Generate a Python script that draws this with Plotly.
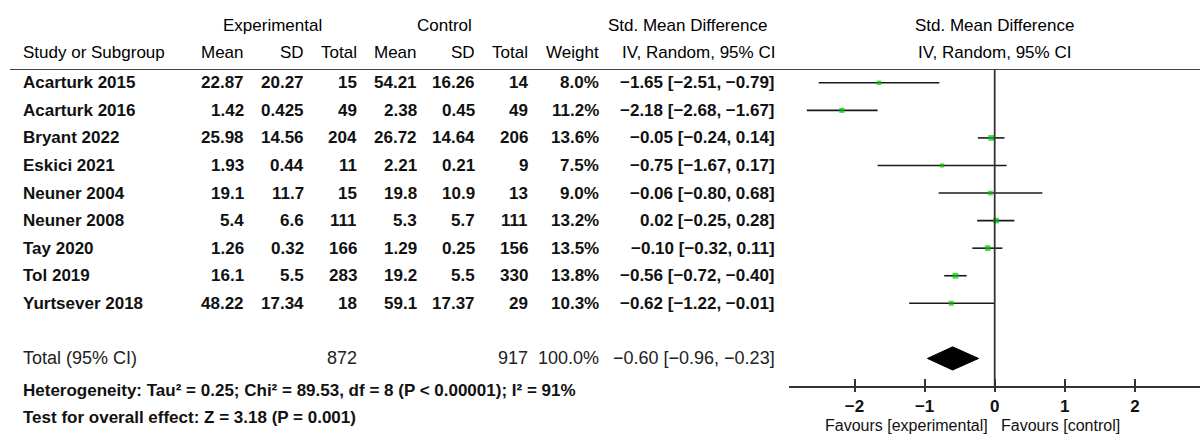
import plotly.graph_objects as go
import math

# ---------------- data ----------------
studies = ["Acarturk 2015", "Acarturk 2016", "Bryant 2022", "Eskici 2021", "Neuner 2004",
           "Neuner 2008", "Tay 2020", "Tol 2019", "Yurtsever 2018"]
exp_mean = ["22.87", "1.42", "25.98", "1.93", "19.1", "5.4", "1.26", "16.1", "48.22"]
exp_sd = ["20.27", "0.425", "14.56", "0.44", "11.7", "6.6", "0.32", "5.5", "17.34"]
exp_n = [15, 49, 204, 11, 15, 111, 166, 283, 18]
ctl_mean = ["54.21", "2.38", "26.72", "2.21", "19.8", "5.3", "1.29", "19.2", "59.1"]
ctl_sd = ["16.26", "0.45", "14.64", "0.21", "10.9", "5.7", "0.25", "5.5", "17.37"]
ctl_n = [14, 49, 206, 9, 13, 111, 156, 330, 29]
weight = [8.0, 11.2, 13.6, 7.5, 9.0, 13.2, 13.5, 13.8, 10.3]
smd = [-1.65, -2.18, -0.05, -0.75, -0.06, 0.02, -0.10, -0.56, -0.62]
ci_lo = [-2.51, -2.68, -0.24, -1.67, -0.80, -0.25, -0.32, -0.72, -1.22]
ci_hi = [-0.79, -1.67, 0.14, 0.17, 0.68, 0.28, 0.11, -0.40, -0.01]

total_label = "Total (95% CI)"
total_exp_n = 872
total_ctl_n = 917
total_weight = 100.0
total_smd = -0.60
total_lo = -0.96
total_hi = -0.23

heterogeneity = "Heterogeneity: Tau² = 0.25; Chi² = 89.53, df = 8 (P < 0.00001); I² = 91%"
overall_effect = "Test for overall effect: Z = 3.18 (P = 0.001)"
x_ticks = [-2, -1, 0, 1, 2]
favours_left = "Favours [experimental]"
favours_right = "Favours [control]"

# ---------------- layout helpers ----------------
W, H = 1200, 434
FONT = "Liberation Sans, Arial, sans-serif"
FS = 17


def minus(s):
    return s.replace("-", "\u2212")


def fmt_ci(e, lo, hi):
    return minus(f"{e:.2f} [{lo:.2f}, {hi:.2f}]")


def px(x):
    return x / W


def py(y):
    return 1 - y / H


rows = list(range(len(studies)))
total_row = len(studies) + 1

fig = go.Figure()

# CI lines
cx, cy = [], []
for r, lo, hi in zip(rows, ci_lo, ci_hi):
    cx += [lo, hi, None]
    cy += [r, r, None]
fig.add_trace(go.Scatter(x=cx, y=cy, mode="lines", line=dict(color="#1a1a1a", width=1.6),
                         hoverinfo="skip", showlegend=False))
# squares
fig.add_trace(go.Scatter(x=smd, y=rows, mode="markers",
                         marker=dict(symbol="square", color="#00c400",
                                     size=[1.55 * math.sqrt(w) for w in weight],
                                     line=dict(width=0)),
                         showlegend=False))
# diamond
dh = 0.42
fig.add_trace(go.Scatter(x=[total_lo, total_smd, total_hi, total_smd, total_lo],
                         y=[total_row, total_row - dh, total_row, total_row + dh, total_row],
                         mode="lines", fill="toself", fillcolor="black",
                         line=dict(color="black", width=1), showlegend=False))
# helper (invisible) trace so the inner-tick axis is drawn
fig.add_trace(go.Scatter(x=x_ticks, y=[None] * len(x_ticks), xaxis="x2", mode="markers",
                         hoverinfo="skip", showlegend=False))

# zero line & header rule
fig.add_shape(type="line", xref="x", yref="y", x0=0, x1=0, y0=-0.5, y1=total_row + 1,
              line=dict(color="#333", width=1.8))
fig.add_shape(type="line", xref="paper", yref="y", x0=px(10), x1=1, y0=-0.5, y1=-0.5,
              line=dict(color="#444", width=2))

ann = []
PAD = 3


def txt(x, y, s, anchor="right", bold=False, yref="y", size=FS, color="#111"):
    if anchor == "right":
        x = x + PAD
    elif anchor == "left":
        x = x - PAD
    ann.append(dict(x=px(x), y=y, xref="paper", yref=yref, text=(f"<b>{s}</b>" if bold else s),
                    showarrow=False, xanchor=anchor, yanchor="middle",
                    font=dict(family=FONT, size=size, color=color)))


# headers
HS = 17
HC = "#000"
txt(272, py(26), "Experimental", "center", yref="paper", size=HS, color=HC)
txt(444, py(26), "Control", "center", yref="paper", size=HS, color=HC)
txt(687, py(26), "Std. Mean Difference", "center", yref="paper", size=HS, color=HC)
txt(994, py(26), "Std. Mean Difference", "center", yref="paper", size=HS, color=HC)
txt(24, py(52), "Study or Subgroup", "left", yref="paper", size=HS, color=HC)
txt(243, py(52), "Mean", yref="paper", size=HS, color=HC)
txt(303, py(52), "SD", yref="paper", size=HS, color=HC)
txt(356, py(52), "Total", yref="paper", size=HS, color=HC)
txt(416, py(52), "Mean", yref="paper", size=HS, color=HC)
txt(474, py(52), "SD", yref="paper", size=HS, color=HC)
txt(527, py(52), "Total", yref="paper", size=HS, color=HC)
txt(598, py(52), "Weight", yref="paper", size=HS, color=HC)
txt(774, py(52), "IV, Random, 95% CI", yref="paper", size=HS, color=HC)
txt(994, py(52), "IV, Random, 95% CI", "center", yref="paper", size=HS, color=HC)

# rows
for i, r in enumerate(rows):
    txt(24, r, studies[i], "left", bold=True)
    txt(243, r, exp_mean[i], bold=True)
    txt(303, r, exp_sd[i], bold=True)
    txt(356, r, str(exp_n[i]), bold=True)
    txt(416, r, ctl_mean[i], bold=True)
    txt(474, r, ctl_sd[i], bold=True)
    txt(527, r, str(ctl_n[i]), bold=True)
    txt(598, r, f"{weight[i]:.1f}%", bold=True)
    txt(774, r, fmt_ci(smd[i], ci_lo[i], ci_hi[i]), bold=True)

# total row
txt(24, total_row, total_label, "left", color="#222", size=18)
txt(356, total_row, str(total_exp_n), color="#222", size=18)
txt(527, total_row, str(total_ctl_n), color="#222", size=18)
txt(598, total_row, f"{total_weight:.1f}%", color="#222", size=18)
txt(774, total_row, fmt_ci(total_smd, total_lo, total_hi), color="#222", size=18)

# footer
txt(24, py(390), heterogeneity, "left", bold=True, yref="paper", size=17)
txt(24, py(417), overall_effect, "left", bold=True, yref="paper", size=17)
txt(987, py(425), favours_left, "right", yref="paper", size=16)
txt(1002, py(425), favours_right, "left", yref="paper", size=16)

x0v = (789 - 994.7) / 70.1
x1v = (1200 - 994.7) / 70.1
fig.update_layout(
    width=W, height=H, margin=dict(l=0, r=0, t=0, b=0, autoexpand=False),
    paper_bgcolor="white", plot_bgcolor="white",
    annotations=ann,
    xaxis=dict(domain=[px(789), 1], range=[x0v, x1v], showgrid=False, zeroline=False,
               showline=True, linecolor="#333", linewidth=1.6, ticks="outside", ticklen=4,
               tickwidth=1.6, tickcolor="#333", tickvals=x_ticks,
               ticktext=[f"<b>{minus(str(t))}</b>" for t in x_ticks],
               tickfont=dict(family=FONT, size=17, color="#111"), anchor="y", fixedrange=True),
    xaxis2=dict(domain=[px(789), 1], range=[x0v, x1v], overlaying="x", anchor="y",
                showgrid=False, zeroline=False, showline=False, ticks="inside", ticklen=7,
                tickwidth=1.6, tickcolor="#333", tickvals=x_ticks, showticklabels=False,
                fixedrange=True),
    yaxis=dict(domain=[1 - 386 / H, 1 - 69 / H], range=[total_row + 1, -0.5], visible=False,
               fixedrange=True),
)
fig.write_html("out.html", config={"displayModeBar": False},
               post_script="document.body.style.margin='0px';")
